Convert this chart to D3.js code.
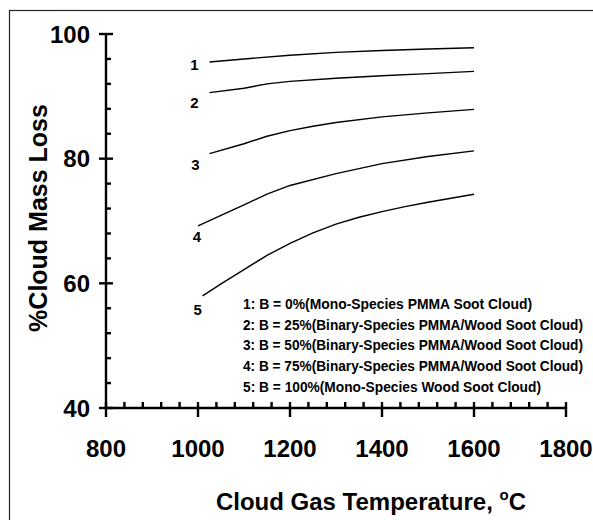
<!DOCTYPE html>
<html><head><meta charset="utf-8">
<script src="https://cdn.jsdelivr.net/npm/d3@7"></script>
<style>body{margin:0;background:#fff}svg{display:block}text{font-family:"Liberation Sans",Arial,sans-serif;font-weight:bold;fill:#000}</style>
</head><body>
<svg id="c" width="593" height="520"></svg>
<script>
// ---- data ----
const xTicks = [800, 1000, 1200, 1400, 1600, 1800];
const yTicks = [40, 60, 80, 100];
const curveLabels = ["1", "2", "3", "4", "5"];
const temp1 = [1025, 1100, 1200, 1300, 1400, 1500, 1600];
const loss1 = [95.5, 96.0, 96.6, 97.05, 97.35, 97.6, 97.8];
const temp2 = [1025, 1100, 1150, 1200, 1300, 1400, 1500, 1600];
const loss2 = [90.6, 91.3, 92.0, 92.4, 92.9, 93.3, 93.65, 94.0];
const temp3 = [1025, 1100, 1150, 1200, 1250, 1300, 1400, 1500, 1600];
const loss3 = [80.8, 82.4, 83.6, 84.5, 85.2, 85.8, 86.7, 87.35, 87.9];
const temp4 = [1000, 1050, 1100, 1150, 1200, 1300, 1400, 1500, 1600];
const loss4 = [69.2, 70.9, 72.6, 74.3, 75.7, 77.6, 79.2, 80.35, 81.25];
const temp5 = [1010, 1050, 1100, 1150, 1200, 1250, 1300, 1350, 1400, 1450, 1500, 1600];
const loss5 = [58.0, 59.9, 62.2, 64.5, 66.4, 68.1, 69.5, 70.6, 71.5, 72.3, 73.0, 74.3];
const legendItems = [
  "1: B = 0%(Mono-Species PMMA Soot Cloud)",
  "2: B = 25%(Binary-Species PMMA/Wood Soot Cloud)",
  "3: B = 50%(Binary-Species PMMA/Wood Soot Cloud)",
  "4: B = 75%(Binary-Species PMMA/Wood Soot Cloud)",
  "5: B = 100%(Mono-Species Wood Soot Cloud)"
];
const xTitle = "Cloud Gas Temperature, ";
const yTitle = "%Cloud Mass Loss";

const series = [[temp1, loss1], [temp2, loss2], [temp3, loss3], [temp4, loss4], [temp5, loss5]];

const svg = d3.select("#c");
const x = d3.scaleLinear().domain([800, 1800]).range([106, 566]);
const y = d3.scaleLinear().domain([40, 100]).range([408, 34]);

// frame
svg.append("rect").attr("x", 9.5).attr("y", 10.5).attr("width", 600).attr("height", 520)
  .attr("fill", "none").attr("stroke", "#222").attr("stroke-width", 1.2);

// minor ticks
const xMinor = d3.range(800, 1801, 40).filter(v => !xTicks.includes(v));
const yMinor = d3.range(40, 101, 4).filter(v => !yTicks.includes(v));
const g = svg.append("g").attr("stroke", "#000").attr("stroke-width", 2.4);
g.selectAll(".xm").data(xMinor).join("line")
  .attr("x1", d => x(d)).attr("x2", d => x(d)).attr("y1", y(40)).attr("y2", y(40) - 6);
g.selectAll(".ym").data(yMinor).join("line")
  .attr("y1", d => y(d)).attr("y2", d => y(d)).attr("x1", x(800)).attr("x2", x(800) + 5);
// major ticks
g.selectAll(".xM").data(xTicks).join("line")
  .attr("x1", d => x(d)).attr("x2", d => x(d)).attr("y1", y(40) - 6).attr("y2", y(40) + 9);
g.selectAll(".yM").data(yTicks).join("line")
  .attr("y1", d => y(d)).attr("y2", d => y(d)).attr("x1", x(800) - 7).attr("x2", x(800) + 7);
// axis lines
g.append("line").attr("x1", x(800)).attr("x2", x(1800)).attr("y1", y(40)).attr("y2", y(40));
g.append("line").attr("x1", x(800)).attr("x2", x(800)).attr("y1", y(40)).attr("y2", y(100));

// tick labels
svg.selectAll(".xl").data(xTicks).join("text")
  .attr("x", d => x(d)).attr("y", 457).attr("text-anchor", "middle")
  .attr("font-size", 24).text(d => d);
svg.selectAll(".yl").data(yTicks).join("text")
  .attr("x", 90).attr("y", d => y(d) + 8.5).attr("text-anchor", "end")
  .attr("font-size", 24).text(d => d);

// titles
const xt = svg.append("text").attr("x", 371).attr("y", 510).attr("text-anchor", "middle").attr("font-size", 24);
xt.append("tspan").text(xTitle);
xt.append("tspan").attr("font-size", 15).attr("dy", -10).text("o");
xt.append("tspan").attr("dy", 10).text("C");
svg.append("text").attr("transform", "translate(47,218) rotate(-90)")
  .attr("text-anchor", "middle").attr("font-size", 25).text(yTitle);

// curves
const line = d3.line().x(d => x(d[0])).y(d => y(d[1]));
svg.selectAll(".curve").data(series).join("path")
  .attr("d", s => line(s[0].map((t, i) => [t, s[1][i]])))
  .attr("fill", "none").attr("stroke", "#000").attr("stroke-width", 1.4);

// curve labels (placed just below-left of each curve start)
const labelOffsets = [[-15, 8], [-15, 15], [-14, 16], [-1, 16], [-5, 19]];
svg.selectAll(".cl").data(series).join("text")
  .attr("x", (s, i) => x(s[0][0]) + labelOffsets[i][0])
  .attr("y", (s, i) => y(s[1][0]) + labelOffsets[i][1])
  .attr("text-anchor", "middle").attr("font-size", 15)
  .text((s, i) => curveLabels[i]);

// legend
const legendLens = [289, 340, 340, 340, 298];
svg.selectAll(".lg").data(legendItems).join("text")
  .attr("x", 243).attr("y", (d, i) => 309 + i * 20.7)
  .attr("font-size", 14)
  .attr("textLength", (d, i) => legendLens[i]).attr("lengthAdjust", "spacingAndGlyphs")
  .text(d => d);
</script>
</body></html>
